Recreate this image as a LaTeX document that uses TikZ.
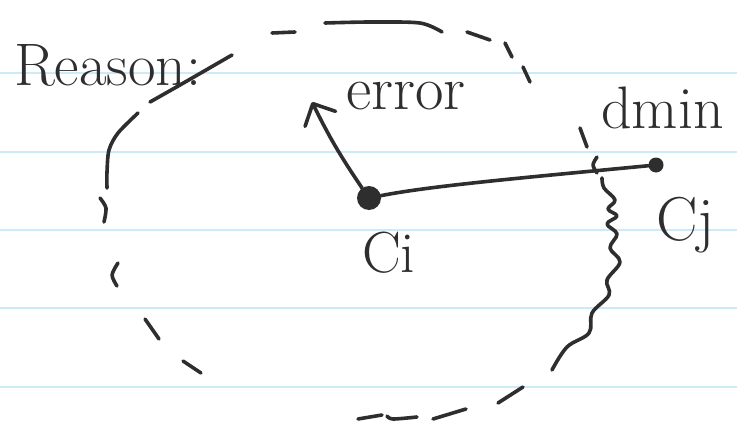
\documentclass[tikz,border=0pt]{standalone}
\usetikzlibrary{arrows.meta}
\definecolor{ink}{HTML}{2E2E2E}
\definecolor{ruled}{HTML}{CDE9FA}
\tikzset{
  pen/.style={draw=ink, line width=3.6pt, line cap=round, line join=round},
  rule/.style={draw=ruled, line width=2pt},
  hand/.style={text=ink, inner sep=0pt, anchor=base west},
  blob/.style={circle, fill=ink, inner sep=0pt},
}
\begin{document}
\begin{tikzpicture}[x=1pt,y=-1pt]
\useasboundingbox (0,0) rectangle (737,423);
\fill[white] (0,0) rectangle (737,423);
% ruled paper lines
\foreach \yy in {73,151.5,230,308,386.5} \draw[rule] (0,\yy) -- (737,\yy);

% labels
\node[hand, font=\fontsize{60}{72}\selectfont] (reason) at (14,85) {Reason:};
\node[hand, font=\fontsize{62}{72}\selectfont] (errlbl) at (346,109) {error};
\node[hand, font=\fontsize{60}{72}\selectfont] (dminlbl) at (601,128) {dmin};
\node[hand, font=\fontsize{58}{72}\selectfont] (cilbl) at (362,272) {Ci};
\node[hand, font=\fontsize{62}{72}\selectfont] (cjlbl) at (656,240) {Cj};

% hand-drawn dashed circle
\draw[pen] plot[smooth] coordinates {(150,102) (180,85) (232,55)};
\draw[pen] plot[smooth] coordinates {(138,113) (118,133) (109,150) (107,172) (107,188)};
\draw[pen] plot[smooth] coordinates {(100,198) (106,208) (104,222)};
\draw[pen] plot[smooth] coordinates {(118,263) (112,275) (117,286)};
\draw[pen] plot[smooth] coordinates {(145,319) (159,339)};
\draw[pen] plot[smooth] coordinates {(183,361) (201,373)};
\draw[pen] plot[smooth] coordinates {(358,419) (382,415)};
\draw[pen] plot[smooth] coordinates {(387,416) (393,419) (417,417)};
\draw[pen] plot[smooth] coordinates {(433,419) (466,409)};
\draw[pen] plot[smooth] coordinates {(498,403) (523,387)};
\draw[pen] plot[smooth, tension=0.6] coordinates {(552,370) (567,347) (589,333) (592,313) (609,295) (607,280) (620,262) (610,248) (617,234) (607,224) (617,216) (608,209) (615,200) (604,188) (602,178)};
\draw[pen] plot[smooth] coordinates {(597,157) (593,165) (597,173)};
\draw[pen] plot[smooth] coordinates {(580,128) (587,147)};
\draw[pen] plot[smooth] coordinates {(523,67) (530,82)};
\draw[pen] plot[smooth] coordinates {(505,43) (512,57)};
\draw[pen] plot[smooth] coordinates {(467,32) (490,40)};
\draw[pen] plot[smooth] coordinates {(325,23) (370,22) (420,23) (442,32)};
\draw[pen] plot[smooth] coordinates {(272,33) (295,32)};

% points
\node[blob, minimum size=24pt] (ci) at (369,198) {};
\node[blob, minimum size=15pt] (cj) at (656,165) {};
\coordinate (errtip) at (312,102);

% connectors
\draw[pen] (ci) .. controls (430,186) and (520,178) .. (cj);
\draw[pen, -{Straight Barb[length=17pt,width=34pt,line cap=round,line join=round]}] (ci) to[bend left=4] (errtip);
\end{tikzpicture}
\end{document}
